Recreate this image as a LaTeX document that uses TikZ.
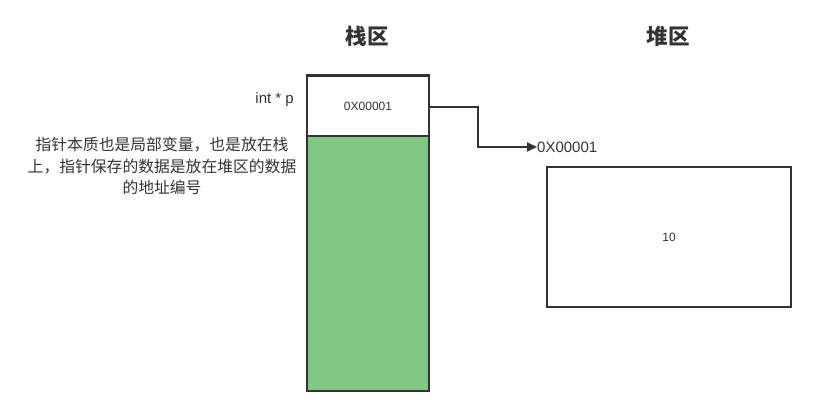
\documentclass[tikz,border=0pt]{standalone}
\usepackage{fontspec}
\setmainfont{Liberation Sans}
\newfontfamily\cjk{Noto Sans CJK SC}
\usetikzlibrary{arrows.meta}
\definecolor{ln}{RGB}{51,51,51}
\definecolor{gr}{RGB}{128,199,132}
\definecolor{tx}{RGB}{51,51,51}
\begin{document}
\begin{tikzpicture}[x=1pt,y=-1pt,
  cell/.style={draw=ln,line width=2pt,minimum width=122pt,inner sep=0pt,anchor=north west},
  lbl/.style={text=tx,inner sep=0pt}]
\useasboundingbox (0,0) rectangle (814,415);
\node[cell,fill=white,minimum height=60pt,font=\fontsize{12}{14}\selectfont] (ptr) at (306,75) {\textcolor{tx}{0X00001}};
\node[cell,fill=gr,minimum height=255pt] (green) at (306,135) {};
\draw[ln,line width=3pt] (ptr.north west) -- (ptr.north east);
\node[draw=ln,line width=2pt,minimum width=244pt,minimum height=140pt,inner sep=0pt,anchor=north west,font=\fontsize{12}{14}\selectfont] (heap) at (546,166) {\textcolor{tx}{10}};
\node[lbl,anchor=west,font=\fontsize{15}{18}\selectfont] (addr) at (537,147) {0X00001};
\draw[ln,line width=2pt,-{Triangle[length=10pt,width=9pt]}] (ptr.east |- 0,107) -- (478,107) -- (478,147) -- (addr.west);
\node[lbl,font=\cjk\bfseries\fontsize{21.5}{24}\selectfont] (t1) at (367,36) {栈区};
\node[lbl,font=\cjk\bfseries\fontsize{21.5}{24}\selectfont] (t2) at (668,36) {堆区};
\node[lbl,anchor=east,font=\fontsize{15}{18}\selectfont] (intp) at (294,100) {int * p};
\node[lbl,align=center,font=\cjk\fontsize{15.8}{21.5}\selectfont] (desc) at (162,166) {指针本质也是局部变量，也是放在栈\\上，指针保存的数据是放在堆区的数据\\的地址编号};
\end{tikzpicture}
\end{document}
